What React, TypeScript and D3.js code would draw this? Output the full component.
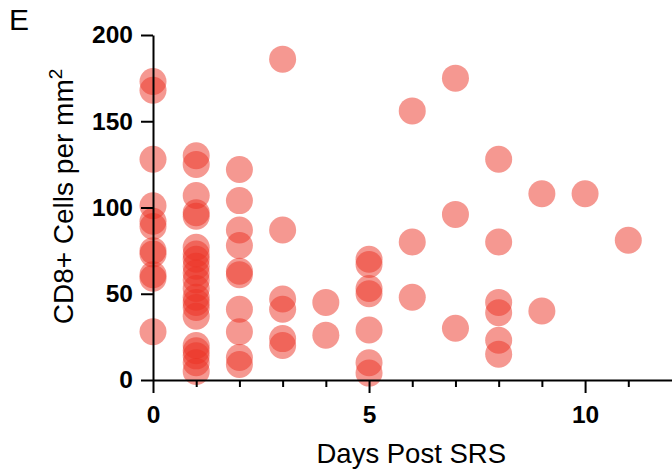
import { useEffect, useRef } from "react";
import { select, scaleLinear, axisBottom, axisLeft } from "d3";

// CD8+ cells per mm2, one list per day post SRS
const day0 = [173, 168, 128, 101, 92, 89, 75, 73, 61, 59, 28];
const day1 = [130, 125, 107, 97, 95, 77, 73, 70, 66, 62, 58, 53, 48, 45, 42, 37, 20, 17, 14, 10, 5];
const day2 = [122, 104, 87, 78, 63, 61, 41, 28, 13, 9];
const day3 = [186, 87, 47, 41, 24, 20];
const day4 = [45, 26];
const day5 = [70, 67, 53, 50, 29, 10, 4];
const day6 = [156, 80, 48];
const day7 = [175, 96, 30];
const day8 = [128, 80, 45, 39, 23, 15];
const day9 = [108, 40];
const day10 = [108];
const day11 = [81];

const byDay = [day0, day1, day2, day3, day4, day5, day6, day7, day8, day9, day10, day11];

const xTicks = [0, 1, 2, 3, 4, 5, 6, 7, 8, 9, 10, 11];
const xLabelled = [0, 5, 10];
const yTicks = [0, 50, 100, 150, 200];

const width = 672;
const height = 472;

export default function App() {
  const svgRef = useRef<SVGSVGElement>(null);

  useEffect(() => {
    const svg = select(svgRef.current);
    svg.selectAll("*").remove();

    const left = 153;
    const bottom = 380;
    const top = 35;

    const xScale = scaleLinear().domain([0, 12]).range([left, 671.5]);
    const yScale = scaleLinear().domain([0, 200]).range([bottom, top]);

    const points = byDay.flatMap((vals, day) => vals.map((v) => ({ day, v })));

    svg
      .append("g")
      .selectAll("circle")
      .data(points)
      .join("circle")
      .attr("cx", (d) => xScale(d.day))
      .attr("cy", (d) => yScale(d.v))
      .attr("r", 13.5)
      .attr("fill", "rgb(235,49,35)")
      .attr("fill-opacity", 0.5);

    // y axis
    const yAxis = axisLeft(yScale).tickValues(yTicks).tickSize(12).tickSizeOuter(0).tickPadding(8);
    const gy = svg.append("g").attr("transform", `translate(${left},0)`).call(yAxis);
    gy.selectAll("path, line").attr("stroke", "#000").attr("stroke-width", 2);
    gy.selectAll("text")
      .attr("font-family", "'Liberation Sans', Arial, sans-serif")
      .attr("font-weight", "bold")
      .attr("font-size", 24.5)
      .attr("fill", "#000");

    // x axis: minor ticks each day, longer ticks at labelled ones
    const xAxis = axisBottom(xScale)
      .tickValues(xTicks)
      .tickSize(7)
      .tickSizeOuter(0)
      .tickFormat((d) => (xLabelled.includes(+d) ? String(d) : ""));
    const gx = svg.append("g").attr("transform", `translate(0,${bottom})`).call(xAxis);
    gx.select(".domain").attr("d", `M${left},0.5H${width}`);
    gx.selectAll("path, line").attr("stroke", "#000").attr("stroke-width", 2);
    gx.selectAll(".tick")
      .filter((d) => xLabelled.includes(+d))
      .select("line")
      .attr("y2", 13);
    gx.selectAll("text")
      .attr("y", 26)
      .attr("font-family", "'Liberation Sans', Arial, sans-serif")
      .attr("font-weight", "bold")
      .attr("font-size", 24.5)
      .attr("fill", "#000");

    // titles
    svg
      .append("text")
      .attr("x", (left + 671.5) / 2 - 1)
      .attr("y", 463)
      .attr("text-anchor", "middle")
      .attr("font-family", "'Liberation Sans', Arial, sans-serif")
      .attr("font-size", 27.5)
      .text("Days Post SRS");

    const yt = svg
      .append("text")
      .attr("transform", `translate(73,${(323 + 70) / 2}) rotate(-90)`)
      .attr("text-anchor", "middle")
      .attr("font-family", "'Liberation Sans', Arial, sans-serif")
      .attr("font-size", 28);
    yt.append("tspan").text("CD8+ Cells per mm");
    yt.append("tspan").attr("font-size", 19).attr("dy", -11).text("2");

    svg
      .append("text")
      .attr("x", 9)
      .attr("y", 30)
      .attr("font-family", "'Liberation Sans', Arial, sans-serif")
      .attr("font-size", 30)
      .text("E");
  }, []);

  return (
    <svg
      ref={svgRef}
      width={width}
      height={height}
      style={{ position: "absolute", left: 0, top: 0, background: "#fff" }}
    />
  );
}
